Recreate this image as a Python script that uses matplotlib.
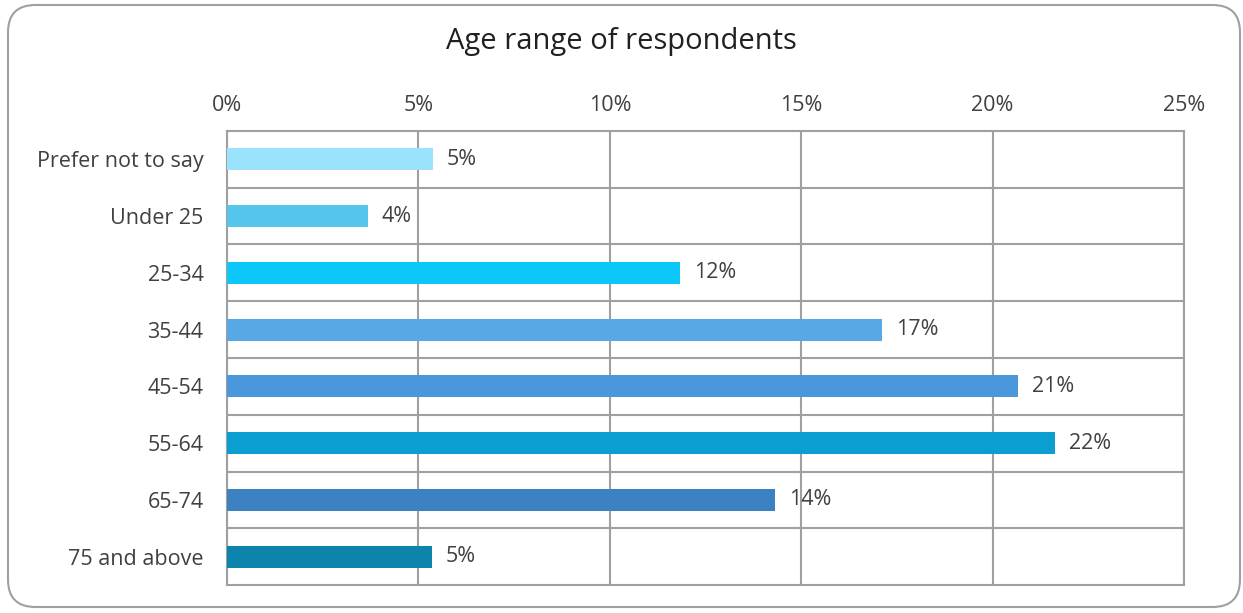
"""Horizontal bar chart: age range of respondents."""
import matplotlib.pyplot as plt
from matplotlib.patches import FancyBboxPatch

CATEGORIES = ["Prefer not to say", "Under 25", "25-34", "35-44", "45-54", "55-64", "65-74", "75 and above"]
VALUES = [5.38, 3.68, 11.84, 17.12, 20.66, 21.64, 14.32, 5.36]
COLORS = ["#9BE3FC", "#55C5EE", "#0BC8F8", "#56A9E5", "#4A97DC", "#0A9FD0", "#3C82C2", "#0C84AC"]
XTICKS = [0, 5, 10, 15, 20, 25]

TEXT = "#404040"
GRID = "#A0A0A0"
FS = 15.5

plt.rcParams["font.family"] = ["Open Sans", "DejaVu Sans"]

fig = plt.figure(figsize=(12.43, 6.13), dpi=100)
frame = FancyBboxPatch((8 / 1243, 6 / 613), 1232 / 1243, 602 / 613,
                       boxstyle="round,pad=0,rounding_size=0.022",
                       transform=fig.transFigure, facecolor="white",
                       edgecolor="#A0A0A0", linewidth=1.5,
                       mutation_aspect=1243 / 613, zorder=-10)
fig.patches.append(frame)

ax = fig.add_axes([227 / 1243, 1 - 585 / 613, 957 / 1243, 454 / 613])
ax.set_facecolor("none")
y = list(range(len(CATEGORIES)))
bars = ax.barh(y, VALUES, height=0.39, color=COLORS, zorder=3)
ax.set_ylim(len(CATEGORIES) - 0.5, -0.5)
ax.set_xlim(0, 25)

ax.set_xticks(XTICKS, [f"{t}%" for t in XTICKS])
ax.xaxis.tick_top()
ax.tick_params(axis="x", length=0, pad=11, labelsize=FS, colors=TEXT)
ax.set_yticks(y, CATEGORIES)
ax.tick_params(axis="y", length=0, pad=17, labelsize=FS, colors=TEXT)
ax.set_yticks([i + 0.5 for i in y[:-1]], minor=True)
ax.tick_params(axis="y", which="minor", length=0)

ax.grid(axis="x", color=GRID, linewidth=1.5, zorder=1)
ax.grid(axis="y", which="minor", color=GRID, linewidth=1.5, zorder=1)
ax.grid(axis="y", which="major", visible=False)
for s in ax.spines.values():
    s.set_color(GRID)
    s.set_linewidth(1.5)

for b, v in zip(bars, VALUES):
    ax.annotate(f"{round(v)}%", (b.get_width(), b.get_y() + b.get_height() / 2),
                xytext=(10, 0), textcoords="offset points", ha="left", va="center",
                fontsize=FS, color=TEXT, zorder=4)

fig.text(0.5, 1 - 42 / 613, "Age range of respondents", ha="center", va="center",
         fontsize=21, color="#202020")

fig.savefig("out.png", dpi=100)
